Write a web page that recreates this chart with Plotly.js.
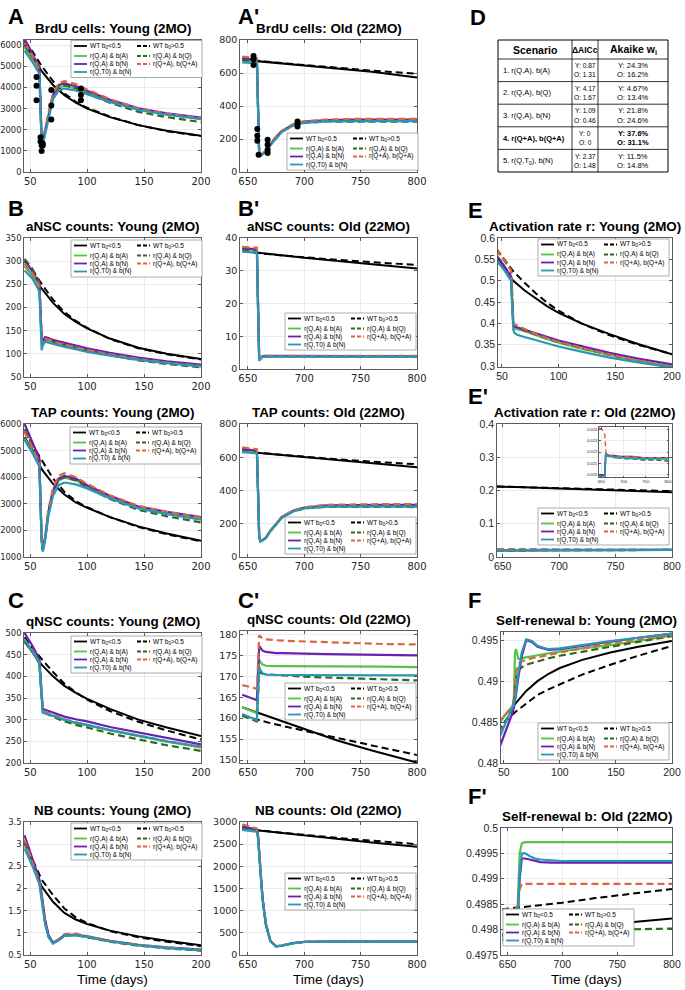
<!DOCTYPE html>
<html><head><meta charset="utf-8">
<script src="https://cdn.plot.ly/plotly-3.0.1.min.js"></script>
<style>html,body{margin:0;padding:0;background:#fff}#chart{width:685px;height:990px}</style>
</head><body><div id="chart"></div>
<script>
// ---------- time grids ----------
const xYoung   = [45, 52, 58, 59, 60, 61, 63, 66, 70, 75, 80, 90, 100, 120, 145, 170, 200];
const xYoungWT = [45, 52, 60, 70, 80, 90, 100, 120, 145, 170, 200];
const xOld     = [645, 652, 658, 659, 660, 661, 663, 666, 670, 675, 680, 690, 700, 720, 745, 770, 800];
const xOldWT   = [645, 670, 700, 730, 760, 800];

// ---------- A: BrdU young ----------
const brduY_wtLo = [6100, 5500, 4780, 4120, 3640, 3280, 3000, 2600, 2220, 1950, 1720];
const brduY_wtHi = [6200, 5700, 5020, 4300, 3720, 3320, 3040, 2620, 2220, 1930, 1700];
const brduY_A  = [5900, 5300, 4750, 2900, 1450, 1380, 1900, 2700, 3580, 4000, 4080, 3960, 3760, 3360, 2970, 2730, 2530];
const brduY_Q  = [6000, 5450, 5000, 3000, 1500, 1420, 1950, 2720, 3620, 4060, 4120, 3960, 3710, 3280, 2850, 2600, 2360];
const brduY_N  = [6300, 5600, 4900, 3100, 1550, 1450, 1950, 2750, 3650, 4120, 4200, 4060, 3840, 3420, 3020, 2780, 2580];
const brduY_QA = [6100, 5500, 4850, 3000, 1550, 1450, 2000, 2800, 3700, 4200, 4300, 4160, 3900, 3450, 3020, 2760, 2550];
const brduY_T0 = [5750, 5200, 4650, 2800, 1350, 1300, 1800, 2600, 3450, 3860, 3950, 3860, 3690, 3320, 2940, 2710, 2500];
const brduY_obsX = [55.5, 55.5, 55.5, 59, 59, 60, 60, 61, 61, 68.5, 68.5, 68.5, 94.5, 94.5, 94.5];
const brduY_obsY = [4500, 4080, 3400, 1650, 1450, 1250, 1000, 1350, 1250, 3880, 3150, 2480, 3950, 3650, 3400];

// ---------- A': BrdU old ----------
const brduO_wtLo = [680, 665, 648, 630, 608, 572];
const brduO_wtHi = [682, 665, 648, 632, 614, 595];
const brduO_A  = [675, 672, 668, 390, 110, 98, 108, 125, 165, 208, 244, 283, 300, 309, 311, 311, 311];
const brduO_Q  = [680, 677, 672, 390, 112, 98, 108, 125, 165, 208, 244, 282, 298, 306, 307, 306, 305];
const brduO_N  = [690, 685, 680, 400, 115, 100, 110, 128, 168, 212, 248, 288, 305, 315, 318, 318, 318];
const brduO_QA = [700, 695, 690, 400, 120, 100, 110, 130, 170, 215, 250, 290, 308, 318, 322, 322, 322];
const brduO_T0 = [665, 662, 660, 380, 105, 97, 106, 124, 163, 206, 242, 282, 299, 307, 309, 308, 308];
const brduO_obsX = [655, 655, 655, 658.3, 658.3, 658.3, 659.5, 667.5, 667.5, 667.5, 667.5, 694, 694, 694];
const brduO_obsY = [703, 683, 648, 260, 219, 189, 105, 195, 165, 135, 115, 306, 290, 276];

// ---------- B: aNSC young ----------
const ansY_wtLo = [290, 270, 241, 210, 186, 169, 155, 133, 113, 100, 89];
const ansY_wtHi = [300, 280, 251, 217, 190, 171, 156, 132, 112, 99, 88];
const ansY_A  = [290, 271, 245, 180, 126, 120, 130, 128, 124, 121, 118, 112, 107, 98, 88, 81, 74];
const ansY_Q  = [305, 283, 255, 185, 130, 125, 132, 130, 126, 122, 119, 113, 107, 97, 86, 78, 71];
const ansY_N  = [300, 278, 250, 190, 135, 128, 136, 134, 130, 127, 124, 118, 112, 102, 92, 84, 77];
const ansY_QA = [295, 274, 248, 185, 130, 125, 133, 131, 127, 123, 120, 114, 108, 99, 89, 81, 74];
const ansY_T0 = [280, 262, 235, 170, 108, 118, 126, 124, 121, 118, 115, 110, 104, 96, 87, 80, 73];

// ---------- B': aNSC old ----------
const ansO_wtLo = [36.0, 35.0, 34.0, 33.0, 32.0, 30.7];
const ansO_wtHi = [36.0, 35.0, 34.1, 33.3, 32.6, 31.8];
const ansO_A  = [36.0, 35.9, 35.8, 19.0, 3.3, 3.2, 3.8, 3.9, 3.9, 3.9, 3.9, 3.9, 3.9, 3.9, 3.9, 3.9, 3.8];
const ansO_Q  = [36.5, 36.4, 36.2, 19.0, 3.4, 3.3, 3.8, 3.9, 3.9, 3.9, 3.9, 3.9, 3.9, 3.9, 3.8, 3.8, 3.8];
const ansO_N  = [37.0, 36.8, 36.5, 20.0, 3.6, 3.3, 3.9, 4.0, 4.0, 4.0, 4.0, 4.0, 4.0, 4.0, 4.0, 3.9, 3.9];
const ansO_QA = [37.3, 37.1, 37.0, 20.0, 4.0, 3.3, 3.9, 4.0, 4.0, 4.0, 4.0, 4.0, 4.0, 4.0, 4.0, 4.0, 4.0];
const ansO_T0 = [35.8, 35.7, 35.5, 18.0, 2.5, 3.0, 3.7, 3.8, 3.8, 3.8, 3.8, 3.8, 3.8, 3.8, 3.8, 3.8, 3.8];

// ---------- E: activation rate young ----------
const actY_wtLo = [0.555, 0.528, 0.500, 0.477, 0.458, 0.440, 0.425, 0.400, 0.375, 0.352, 0.328];
const actY_wtHi = [0.575, 0.550, 0.522, 0.495, 0.470, 0.448, 0.430, 0.400, 0.372, 0.350, 0.328];
const actY_A  = [0.550, 0.527, 0.505, 0.450, 0.395, 0.388, 0.387, 0.385, 0.382, 0.377, 0.372, 0.363, 0.355, 0.341, 0.326, 0.313, 0.300];
const actY_Q  = [0.573, 0.547, 0.525, 0.465, 0.400, 0.393, 0.391, 0.389, 0.385, 0.379, 0.374, 0.364, 0.356, 0.342, 0.326, 0.312, 0.297];
const actY_N  = [0.560, 0.535, 0.510, 0.460, 0.400, 0.393, 0.391, 0.389, 0.385, 0.381, 0.377, 0.368, 0.360, 0.347, 0.331, 0.318, 0.304];
const actY_QA = [0.575, 0.548, 0.525, 0.470, 0.405, 0.398, 0.395, 0.392, 0.387, 0.381, 0.375, 0.365, 0.357, 0.343, 0.327, 0.313, 0.299];
const actY_T0 = [0.548, 0.525, 0.500, 0.440, 0.385, 0.378, 0.374, 0.371, 0.368, 0.364, 0.360, 0.352, 0.346, 0.334, 0.320, 0.309, 0.297];

// ---------- E': activation rate old ----------
const actO_wtLo = [0.212, 0.209, 0.206, 0.202, 0.199, 0.195];
const actO_wtHi = [0.212, 0.210, 0.207, 0.204, 0.201, 0.198];
const actO_A  = [0.0200, 0.0200, 0.0199, 0.0209, 0.0218, 0.0218, 0.0217, 0.0217, 0.0217, 0.0216, 0.0216, 0.0216, 0.0215, 0.0215, 0.0214, 0.0214, 0.0214];
const actO_Q  = [0.0200, 0.0200, 0.0199, 0.0208, 0.0218, 0.0217, 0.0217, 0.0216, 0.0216, 0.0216, 0.0215, 0.0215, 0.0214, 0.0214, 0.0213, 0.0213, 0.0212];
const actO_N  = [0.0200, 0.0200, 0.0199, 0.0209, 0.0219, 0.0218, 0.0218, 0.0217, 0.0217, 0.0217, 0.0217, 0.0216, 0.0216, 0.0216, 0.0215, 0.0215, 0.0215];
const actO_QA = [0.0241, 0.0240, 0.0235, 0.0225, 0.0218, 0.0218, 0.0218, 0.0217, 0.0217, 0.0217, 0.0217, 0.0216, 0.0216, 0.0216, 0.0215, 0.0215, 0.0215];
const actO_T0 = [0.0199, 0.0198, 0.0197, 0.0207, 0.0219, 0.0218, 0.0217, 0.0216, 0.0216, 0.0216, 0.0215, 0.0215, 0.0215, 0.0214, 0.0214, 0.0214, 0.0214];

// ---------- TAP young ----------
const tapY_wtLo = [5500, 5000, 4300, 3750, 3350, 3050, 2850, 2500, 2150, 1880, 1610];
const tapY_wtHi = [5700, 5200, 4650, 3950, 3450, 3100, 2870, 2500, 2130, 1850, 1590];
const tapY_A  = [5450, 4950, 4450, 2950, 1650, 1250, 1680, 2650, 3450, 3880, 3980, 3880, 3650, 3250, 2870, 2650, 2450];
const tapY_Q  = [5800, 5200, 4650, 3050, 1700, 1260, 1700, 2700, 3500, 3920, 4000, 3880, 3620, 3180, 2770, 2530, 2300];
const tapY_N  = [6000, 5300, 4700, 3100, 1700, 1270, 1700, 2700, 3500, 3950, 4050, 3950, 3700, 3300, 2900, 2700, 2500];
const tapY_QA = [5700, 5100, 4500, 3000, 1700, 1270, 1750, 2800, 3600, 4050, 4150, 4000, 3750, 3320, 2920, 2700, 2480];
const tapY_T0 = [5400, 4900, 4400, 2900, 1600, 1200, 1600, 2550, 3300, 3700, 3800, 3730, 3580, 3200, 2830, 2610, 2400];

// ---------- TAP old ----------
const tapO_wtLo = [635, 620, 600, 582, 563, 540];
const tapO_wtHi = [635, 620, 602, 587, 573, 558];
const tapO_A  = [640, 636, 632, 390, 125, 95, 100, 116, 157, 196, 238, 275, 294, 305, 307, 306, 305];
const tapO_Q  = [645, 641, 636, 390, 126, 95, 100, 116, 157, 196, 237, 274, 292, 302, 303, 302, 300];
const tapO_N  = [650, 645, 640, 395, 128, 96, 101, 117, 158, 198, 240, 278, 298, 311, 314, 314, 314];
const tapO_QA = [660, 655, 648, 400, 130, 97, 102, 118, 160, 200, 242, 280, 300, 314, 318, 318, 318];
const tapO_T0 = [630, 627, 624, 385, 122, 94, 99, 115, 156, 195, 236, 274, 293, 303, 305, 304, 303];

// ---------- C: qNSC young ----------
const qnsY_wtLo = [480, 455, 427, 400, 378, 362, 348, 325, 300, 282, 262];
const qnsY_wtHi = [490, 465, 440, 410, 383, 363, 346, 320, 295, 275, 254];
const qnsY_A  = [480, 456, 430, 388, 338, 318, 316, 313, 309, 304, 299, 292, 287, 275, 262, 249, 236];
const qnsY_Q  = [480, 456, 430, 388, 338, 318, 315, 312, 307, 301, 296, 288, 282, 268, 254, 241, 228];
const qnsY_N  = [500, 470, 440, 395, 345, 325, 323, 320, 316, 311, 307, 301, 296, 283, 270, 257, 243];
const qnsY_QA = [485, 460, 432, 390, 340, 320, 318, 315, 311, 306, 301, 294, 288, 276, 263, 250, 236];
const qnsY_T0 = [485, 458, 432, 390, 335, 316, 315, 313, 309, 304, 300, 293, 288, 276, 263, 250, 238];

// ---------- C': qNSC old ----------
const qnsO_wtLo = [162.6, 160.3, 157.4, 154.6, 152.3, 149.4];
const qnsO_wtHi = [160.6, 158.8, 157.0, 155.2, 153.5, 151.2];
const qnsO_A  = [162.6, 161.9, 161.2, 167.5, 174.1, 173.5, 172.8, 172.5, 172.4, 172.4, 172.4, 172.4, 172.4, 172.3, 172.3, 172.3, 172.2];
const qnsO_Q  = [160.6, 159.9, 159.2, 165.0, 171.0, 170.8, 170.6, 170.5, 170.4, 170.3, 170.2, 170.1, 169.9, 169.7, 169.5, 169.2, 169.0];
const qnsO_N  = [165.6, 165.0, 164.3, 171.0, 177.3, 176.8, 176.1, 175.8, 175.6, 175.5, 175.5, 175.4, 175.4, 175.3, 175.2, 175.1, 175.0];
const qnsO_QA = [167.9, 167.5, 167.0, 173.0, 179.8, 179.5, 179.0, 178.8, 178.7, 178.6, 178.5, 178.4, 178.3, 178.1, 177.9, 177.7, 177.6];
const qnsO_T0 = [161.0, 160.2, 159.5, 166.0, 172.3, 171.5, 170.7, 170.4, 170.3, 170.3, 170.3, 170.3, 170.3, 170.3, 170.2, 170.2, 170.2];

// ---------- F: self-renewal young ----------
const srY_wtLo = [0.4848, 0.4860, 0.4872, 0.4888, 0.4900, 0.4909, 0.4916, 0.4926, 0.4935, 0.4942, 0.4949];
const srY_wtHi = [0.4838, 0.4852, 0.4862, 0.4873, 0.4883, 0.4890, 0.4896, 0.4908, 0.4920, 0.4931, 0.4943];
const srY_A  = [0.4848, 0.4860, 0.4870, 0.4880, 0.4935, 0.4939, 0.4927, 0.4928, 0.4929, 0.4931, 0.4932, 0.4934, 0.4936, 0.4940, 0.4944, 0.4949, 0.4956];
const srY_Q  = [0.4838, 0.4852, 0.4865, 0.4872, 0.4890, 0.4905, 0.4913, 0.4917, 0.4920, 0.4922, 0.4924, 0.4928, 0.4931, 0.4936, 0.4942, 0.4948, 0.4955];
const srY_N  = [0.4815, 0.4840, 0.4862, 0.4868, 0.4875, 0.4885, 0.4905, 0.4930, 0.4950, 0.4948, 0.4942, 0.4938, 0.4939, 0.4943, 0.4948, 0.4953, 0.4958];
const srY_QA = [0.4848, 0.4860, 0.4870, 0.4880, 0.4900, 0.4912, 0.4921, 0.4924, 0.4926, 0.4928, 0.4929, 0.4932, 0.4935, 0.4940, 0.4946, 0.4951, 0.4956];
const srY_T0 = [0.4828, 0.4850, 0.4868, 0.4872, 0.4878, 0.4890, 0.4910, 0.4935, 0.4951, 0.4949, 0.4943, 0.4939, 0.4940, 0.4944, 0.4949, 0.4953, 0.4958];

// ---------- NB young ----------
const nbY_wtLo = [3.0, 2.55, 2.05, 1.7, 1.45, 1.3, 1.2, 1.05, 0.92, 0.82, 0.72];
const nbY_wtHi = [3.1, 2.65, 2.2, 1.85, 1.55, 1.35, 1.22, 1.04, 0.9, 0.8, 0.7];
const nbY_A  = [3.0, 2.55, 2.15, 2.0, 1.8, 1.6, 1.25, 0.92, 0.77, 0.84, 0.94, 0.95, 0.91, 0.81, 0.72, 0.66, 0.61];
const nbY_Q  = [3.05, 2.6, 2.2, 2.05, 1.85, 1.62, 1.27, 0.93, 0.77, 0.84, 0.94, 0.95, 0.90, 0.80, 0.71, 0.65, 0.60];
const nbY_N  = [3.2, 2.65, 2.2, 2.05, 1.85, 1.65, 1.3, 0.95, 0.78, 0.85, 0.95, 0.96, 0.92, 0.82, 0.73, 0.67, 0.62];
const nbY_QA = [3.1, 2.6, 2.15, 2.0, 1.8, 1.6, 1.25, 0.92, 0.77, 0.86, 0.97, 0.98, 0.93, 0.82, 0.73, 0.67, 0.62];
const nbY_T0 = [2.9, 2.5, 2.1, 1.95, 1.75, 1.55, 1.2, 0.9, 0.76, 0.83, 0.93, 0.95, 0.91, 0.81, 0.72, 0.66, 0.61];

// ---------- NB old ----------
const nbO_wtLo = [2850, 2780, 2700, 2620, 2540, 2440];
const nbO_wtHi = [2850, 2780, 2710, 2640, 2580, 2500];
const nbO_A  = [2860, 2830, 2800, 2650, 2250, 1850, 1260, 680, 310, 195, 210, 265, 295, 302, 302, 302, 302];
const nbO_Q  = [2880, 2850, 2820, 2670, 2270, 1870, 1270, 685, 312, 196, 210, 265, 294, 300, 300, 300, 300];
const nbO_N  = [2900, 2870, 2830, 2680, 2280, 1880, 1280, 690, 315, 198, 212, 268, 298, 305, 305, 305, 305];
const nbO_QA = [2950, 2900, 2850, 2700, 2300, 1900, 1300, 700, 320, 200, 215, 270, 300, 310, 310, 310, 310];
const nbO_T0 = [2820, 2800, 2780, 2630, 2230, 1830, 1240, 670, 305, 193, 208, 263, 293, 300, 300, 300, 300];

// ---------- F': self-renewal old ----------
const srO_wtLo = [0.49790, 0.49795, 0.49800, 0.49808, 0.49814, 0.49822];
const srO_wtHi = [0.49840, 0.49846, 0.49853, 0.49862, 0.49870, 0.49880];
const srO_A  = [0.49785, 0.49788, 0.4979, 0.4983, 0.4990, 0.4995, 0.4997, 0.49972, 0.49972, 0.49972, 0.49972, 0.49972, 0.49972, 0.49972, 0.49972, 0.49972, 0.49972];
const srO_Q  = [0.49790, 0.49791, 0.49792, 0.49792, 0.49793, 0.49793, 0.49794, 0.49794, 0.49795, 0.49795, 0.49796, 0.49797, 0.49798, 0.49799, 0.49800, 0.49801, 0.49802];
const srO_N  = [0.4978, 0.4978, 0.4978, 0.4981, 0.4986, 0.4990, 0.4994, 0.4994, 0.49938, 0.49935, 0.49933, 0.49932, 0.49932, 0.49932, 0.49932, 0.49932, 0.49932];
const srO_QA = [0.4984, 0.4984, 0.4984, 0.4985, 0.4987, 0.4988, 0.4989, 0.4989, 0.4989, 0.4989, 0.4989, 0.4989, 0.4989, 0.4989, 0.4989, 0.4989, 0.4989];
const srO_T0 = [0.4978, 0.4978, 0.4978, 0.4981, 0.4986, 0.4991, 0.4995, 0.4995, 0.49945, 0.4994, 0.49938, 0.49936, 0.49935, 0.49935, 0.49935, 0.49935, 0.49935];

// ---------- legend labels ----------
const seriesKeys   = ['wtLo', 'wtHi', 'A', 'Q', 'N', 'QA', 'T0'];
const seriesLabels = ['WT b<sub>0</sub>&lt;0.5', 'WT b<sub>0</sub>&gt;0.5', 'r(Q,A) & b(A)', 'r(Q,A) & b(Q)', 'r(Q,A) & b(N)', 'r(Q+A), b(Q+A)', 'r(Q,T0) & b(N)'];

// ---------- table D ----------
const tblHeaders  = ['Scenario', '\u0394AICc', 'Akaike w<sub>i</sub>'];
const scenarios   = ['1. r(Q,A), b(A)', '2. r(Q,A), b(Q)', '3. r(Q,A), b(N)', '4. r(Q+A), b(Q+A)', '5. r(Q,T<sub>0</sub>), b(N)'];
const dAICcYoung  = ['0.87', '4.17', '1.09', '0', '2.37'];
const dAICcOld    = ['1.31', '1.67', '0.46', '0', '1.48'];
const akaikeYoung = ['24.3%', '4.67%', '21.8%', '37.6%', '11.5%'];
const akaikeOld   = ['16.2%', '13.4%', '24.6%', '31.1%', '14.8%'];
const bestRow = 3;

// ================= drawing =================
const W = 685, H = 990;
const px = v => v / W, py = v => 1 - v / H;
const STYLE = {
  wtLo: {color: '#000000', dash: 'solid'},
  wtHi: {color: '#000000', dash: '7px,4px'},
  A:    {color: '#55c344', dash: 'solid'},
  Q:    {color: '#2d6b1a', dash: '7px,4px'},
  N:    {color: '#6a20b0', dash: 'solid'},
  QA:   {color: '#dc6540', dash: '7px,4px'},
  T0:   {color: '#2a96b5', dash: 'solid'}
};
function S(p) { return {wtLo: p[0], wtHi: p[1], A: p[2], Q: p[3], N: p[4], QA: p[5], T0: p[6]}; }

const panels = [
  {title: 'BrdU cells: Young (2MO)', age: 'Y', box: [24, 201, 40, 172], xr: [44.5, 200], yr: [0, 6250], dt: 1000, t0: 0, left: true,
   s: S([brduY_wtLo, brduY_wtHi, brduY_A, brduY_Q, brduY_N, brduY_QA, brduY_T0]), leg: [71, 40.5], obs: [brduY_obsX, brduY_obsY]},
  {title: 'BrdU cells: Old (22MO)', age: 'O', box: [240, 417, 40, 172], xr: [643, 800], yr: [0, 800], dt: 200, t0: 0,
   s: S([brduO_wtLo, brduO_wtHi, brduO_A, brduO_Q, brduO_N, brduO_QA, brduO_T0]), leg: [287, 133], obs: [brduO_obsX, brduO_obsY]},
  {title: 'aNSC counts: Young (2MO)', age: 'Y', box: [24, 201, 238, 377], xr: [44.5, 200], yr: [50, 350], dt: 50, t0: 0, left: true,
   s: S([ansY_wtLo, ansY_wtHi, ansY_A, ansY_Q, ansY_N, ansY_QA, ansY_T0]), leg: [71, 240]},
  {title: 'aNSC counts: Old (22MO)', age: 'O', box: [240, 417, 238, 369], xr: [643, 800], yr: [0, 40], dt: 10, t0: 0,
   s: S([ansO_wtLo, ansO_wtHi, ansO_A, ansO_Q, ansO_N, ansO_QA, ansO_T0]), leg: [285, 313]},
  {title: 'Activation rate r: Young (2MO)', age: 'Y', box: [498, 672, 238, 367], xr: [46.5, 200], yr: [0.298, 0.6], dt: 0.05, t0: 0, small: true,
   s: S([actY_wtLo, actY_wtHi, actY_A, actY_Q, actY_N, actY_QA, actY_T0]), leg: [538, 239]},
  {title: 'Activation rate r: Old (22MO)', age: 'O', box: [497, 672, 424, 557], xr: [645, 800], yr: [0, 0.4], dt: 0.1, t0: 0, small: true,
   s: S([actO_wtLo, actO_wtHi, actO_A, actO_Q, actO_N, actO_QA, actO_T0]), leg: [538, 508]},
  {title: 'TAP counts: Young (2MO)', age: 'Y', box: [24, 201, 424, 557], xr: [44.5, 200], yr: [1000, 6000], dt: 1000, t0: 0, left: true,
   s: S([tapY_wtLo, tapY_wtHi, tapY_A, tapY_Q, tapY_N, tapY_QA, tapY_T0]), leg: [70, 427]},
  {title: 'TAP counts: Old (22MO)', age: 'O', box: [240, 417, 424, 557], xr: [643, 800], yr: [0, 800], dt: 200, t0: 0,
   s: S([tapO_wtLo, tapO_wtHi, tapO_A, tapO_Q, tapO_N, tapO_QA, tapO_T0]), leg: [285, 517]},
  {title: 'qNSC counts: Young (2MO)', age: 'Y', box: [24, 201, 633, 763], xr: [44.5, 200], yr: [200, 500], dt: 50, t0: 0, left: true,
   s: S([qnsY_wtLo, qnsY_wtHi, qnsY_A, qnsY_Q, qnsY_N, qnsY_QA, qnsY_T0]), leg: [71, 636]},
  {title: 'qNSC counts: Old (22MO)', age: 'O', box: [240, 417, 631, 763], xr: [643, 800], yr: [149.3, 180.8], dt: 5, t0: 0,
   s: S([qnsO_wtLo, qnsO_wtHi, qnsO_A, qnsO_Q, qnsO_N, qnsO_QA, qnsO_T0]), leg: [285, 683]},
  {title: 'Self-renewal b: Young (2MO)', age: 'Y', box: [501, 672, 632, 763], xr: [47.5, 200], yr: [0.48, 0.496], dt: 0.005, t0: 0, small: true,
   s: S([srY_wtLo, srY_wtHi, srY_A, srY_Q, srY_N, srY_QA, srY_T0]), leg: [538, 723]},
  {title: 'NB counts: Young (2MO)', age: 'Y', box: [24, 201, 822, 955], xr: [44.5, 200], yr: [0.5, 3.5], dt: 0.5, t0: 0, left: true,
   s: S([nbY_wtLo, nbY_wtHi, nbY_A, nbY_Q, nbY_N, nbY_QA, nbY_T0]), leg: [71, 823]},
  {title: 'NB counts: Old (22MO)', age: 'O', box: [240, 417, 822, 955], xr: [643, 800], yr: [0, 3000], dt: 500, t0: 0,
   s: S([nbO_wtLo, nbO_wtHi, nbO_A, nbO_Q, nbO_N, nbO_QA, nbO_T0]), leg: [285, 873]},
  {title: 'Self-renewal b: Old (22MO)', age: 'O', box: [501, 672, 828, 955], xr: [644, 800], yr: [0.4975, 0.5], dt: 0.0005, t0: 0, small: true,
   s: S([srO_wtLo, srO_wtHi, srO_A, srO_Q, srO_N, srO_QA, srO_T0]), leg: [503, 909]}
];

const traces = [], annotations = [], shapes = [];
const layout = {
  width: W, height: H, margin: {l: 0, r: 0, t: 0, b: 0},
  paper_bgcolor: '#fff', plot_bgcolor: '#fff', showlegend: false,
  font: {family: 'Liberation Sans, Arial, sans-serif', color: '#000'}
};

function axisCfg(domain, range, dt, t0, anchor, fam, size) {
  return {
    domain: domain, range: range, autorange: false, tick0: t0, dtick: dt,
    showgrid: true, gridcolor: '#e6e6e6', gridwidth: 0.8, zeroline: false,
    showline: true, linecolor: '#333', linewidth: 0.8, mirror: 'ticks',
    ticks: 'inside', ticklen: 3, tickwidth: 0.8, tickcolor: '#333',
    tickfont: {family: fam, size: size, color: '#262626'},
    exponentformat: 'none', anchor: anchor, fixedrange: true
  };
}

panels.forEach((p, i) => {
  const n = i + 1;
  const xa = 'x' + (n === 1 ? '' : n), ya = 'y' + (n === 1 ? '' : n);
  const [l, r, t, b] = p.box;
  const fam = p.small ? 'Liberation Sans' : 'DejaVu Sans';
  layout['xaxis' + (n === 1 ? '' : n)] = axisCfg([px(l), px(r)], p.xr, 50, 0, ya, fam, p.small ? 10.5 : 10);
  layout['yaxis' + (n === 1 ? '' : n)] = axisCfg([py(b), py(t)], p.yr, p.dt, p.t0, xa, fam, p.small ? 10.5 : (p.left ? 8.4 : 9.5));
  seriesKeys.forEach(k => {
    const isWT = k === 'wtLo' || k === 'wtHi';
    const xs = p.age === 'Y' ? (isWT ? xYoungWT : xYoung) : (isWT ? xOldWT : xOld);
    traces.push({type: 'scatter', mode: 'lines', x: xs, y: p.s[k], xaxis: xa, yaxis: ya,
      line: {color: STYLE[k].color, dash: STYLE[k].dash, width: isWT ? 2.0 : 2.2}, hoverinfo: 'skip'});
  });
  if (p.obs) {
    traces.push({type: 'scatter', mode: 'markers', x: p.obs[0], y: p.obs[1], xaxis: xa, yaxis: ya,
      marker: {color: '#000', size: 6}, hoverinfo: 'skip'});
  }
  annotations.push({text: '<b>' + p.title + '</b>', x: px((l + r) / 2), y: py(t - 2), xref: 'paper', yref: 'paper',
    xanchor: 'center', yanchor: 'bottom', showarrow: false,
    font: {family: 'Liberation Sans', size: 13.4, color: '#000'}});
  // legend box
  const [lx, ly] = p.leg, lw = 131, lh = 37;
  shapes.push({type: 'rect', xref: 'paper', yref: 'paper', x0: px(lx), x1: px(lx + lw), y0: py(ly + lh), y1: py(ly),
    fillcolor: '#fff', line: {color: '#8a8a8a', width: 0.7}, layer: 'above'});
  const colX = [3, 66], rowY = [5.5, 15.5, 23.5, 31.5];
  seriesKeys.forEach((k, j) => {
    const c = j === 6 ? 0 : j % 2, rr = Math.floor(j / 2);
    shapes.push({type: 'line', xref: 'paper', yref: 'paper', x0: px(lx + colX[c]), x1: px(lx + colX[c] + 13),
      y0: py(ly + rowY[rr]), y1: py(ly + rowY[rr]), layer: 'above',
      line: {color: STYLE[k].color, width: 1.8, dash: STYLE[k].dash === 'solid' ? 'solid' : '4px,2px'}});
    annotations.push({text: seriesLabels[j], x: px(lx + colX[c] + 14), y: py(ly + rowY[rr]), xref: 'paper', yref: 'paper',
      xanchor: 'left', yanchor: 'middle', showarrow: false, font: {family: 'Liberation Sans', size: 6.5, color: '#000'}});
  });
});

// inset in E'
layout['xaxis15'] = Object.assign(axisCfg([px(599), px(668)], [645, 800], 50, 0, 'y15', 'Liberation Sans', 4.2), {ticklen: 1.5});
layout['yaxis15'] = Object.assign(axisCfg([py(477), py(427)], [0.0198, 0.0242], 0.001, 0, 'x15', 'Liberation Sans', 4.2), {ticklen: 1.5, tickformat: '.3f'});
['A', 'Q', 'N', 'QA', 'T0'].forEach(k => {
  traces.push({type: 'scatter', mode: 'lines', x: xOld, y: panels[5].s[k], xaxis: 'x15', yaxis: 'y15',
    line: {color: STYLE[k].color, dash: STYLE[k].dash === 'solid' ? 'solid' : '5px,3px', width: 1.5}, hoverinfo: 'skip'});
});

// panel letters
[['A', 6, 2], ["A'", 236, 2], ['D', 468, 3], ['B', 6, 194], ["B'", 236, 194], ['E', 466, 196], ["E'", 466, 382],
 ['C', 6, 586], ["C'", 236, 586], ['F', 466, 586], ["F'", 466, 782]].forEach(([tx, x, y]) => {
  annotations.push({text: '<b>' + tx + '</b>', x: px(x), y: py(y), xref: 'paper', yref: 'paper', xanchor: 'left', yanchor: 'top',
    showarrow: false, font: {family: 'Liberation Sans', size: 22, color: '#000'}});
});
// x-axis titles
[112.5, 328.5, 586.5].forEach(x => {
  annotations.push({text: 'Time (days)', x: px(x), y: py(979), xref: 'paper', yref: 'paper', xanchor: 'center', yanchor: 'middle',
    showarrow: false, font: {family: 'Liberation Sans', size: 13.5, color: '#000'}});
});

// table D
const tCols = [498, 572, 598, 668], tTop = 40, tHead = 59, rowH = 22.6, tBot = tHead + rowH * scenarios.length;
shapes.push({type: 'rect', xref: 'paper', yref: 'paper', x0: px(tCols[0]), x1: px(tCols[3]), y0: py(tBot), y1: py(tTop),
  fillcolor: 'rgba(0,0,0,0)', line: {color: '#000', width: 1}});
[tCols[1], tCols[2]].forEach(x => shapes.push({type: 'line', xref: 'paper', yref: 'paper', x0: px(x), x1: px(x), y0: py(tBot), y1: py(tTop), line: {color: '#000', width: 0.8}}));
for (let k = 0; k < scenarios.length; k++) {
  const yy = tHead + rowH * k;
  shapes.push({type: 'line', xref: 'paper', yref: 'paper', x0: px(tCols[0]), x1: px(tCols[3]), y0: py(yy), y1: py(yy), line: {color: '#000', width: 0.8}});
}
const hdrSizes = [10.5, 8.5, 10.5];
tblHeaders.forEach((h, c) => {
  annotations.push({text: '<b>' + h + '</b>', x: px((tCols[c] + tCols[c + 1]) / 2), y: py((tTop + tHead) / 2), xref: 'paper', yref: 'paper',
    xanchor: 'center', yanchor: 'middle', showarrow: false, font: {family: 'Liberation Sans', size: hdrSizes[c], color: '#000'}});
});
scenarios.forEach((sc, k) => {
  const yc = tHead + rowH * (k + 0.5);
  const B = s => (k === bestRow ? '<b>' + s + '</b>' : s);
  annotations.push({text: B(sc), x: px(tCols[0] + 3), y: py(yc), xref: 'paper', yref: 'paper', xanchor: 'left', yanchor: 'middle',
    showarrow: false, font: {family: 'Liberation Sans', size: 7.5, color: '#000'}});
  const cells = [[dAICcYoung[k], dAICcOld[k], 1, 6.6], [akaikeYoung[k], akaikeOld[k], 2, 7.5]];
  cells.forEach(([yv, ov, c, fs]) => {
    const xc = px((tCols[c] + tCols[c + 1]) / 2);
    const bold = c === 2 && k === bestRow;
    annotations.push({text: bold ? '<b>Y: ' + yv + '</b>' : 'Y: ' + yv, x: xc, y: py(yc - 4.5), xref: 'paper', yref: 'paper', xanchor: 'center', yanchor: 'middle',
      showarrow: false, font: {family: 'Liberation Sans', size: fs, color: '#000'}});
    annotations.push({text: bold ? '<b>O: ' + ov + '</b>' : 'O: ' + ov, x: xc, y: py(yc + 4.5), xref: 'paper', yref: 'paper', xanchor: 'center', yanchor: 'middle',
      showarrow: false, font: {family: 'Liberation Sans', size: fs, color: '#000'}});
  });
});

layout.annotations = annotations;
layout.shapes = shapes;
Plotly.newPlot('chart', traces, layout, {staticPlot: true, displayModeBar: false});
</script></body></html>
